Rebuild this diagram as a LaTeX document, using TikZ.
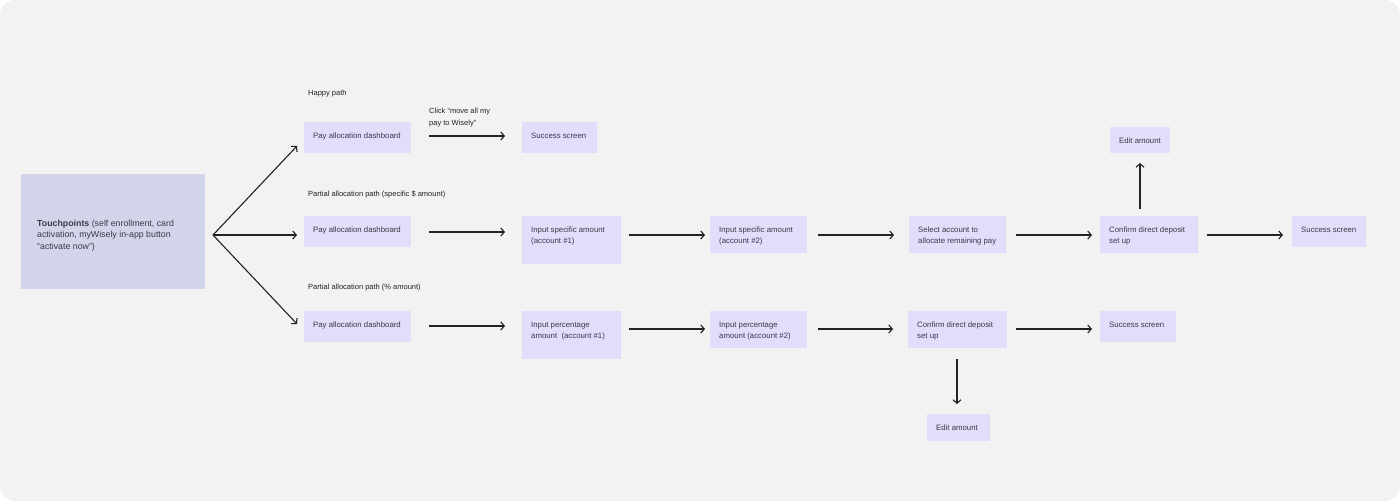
\documentclass[tikz,border=0pt]{standalone}
\usepackage{fontspec}
\setmainfont{Liberation Sans}
\usetikzlibrary{arrows.meta}
\definecolor{bg}{HTML}{F2F2F2}
\definecolor{tpfill}{HTML}{D2D5EA}
\definecolor{boxfill}{HTML}{E3DCFA}
\definecolor{ink}{HTML}{222222}
\definecolor{txt}{HTML}{3A3948}
\newcommand\bx[7][boxfill]{%
  \node[box, fill=#1, minimum width={#5-#3}, minimum height={#6-#4}] (#2) at (#3,#4) {};
  \node[boxtxt] (#2t) at (#2.north west) {#7};}
\begin{document}
\begin{tikzpicture}[x=1pt,y=-1pt,
  box/.style={draw=none, anchor=north west, inner sep=0pt, outer sep=0pt},
  boxtxt/.style={anchor=north west, inner xsep=9pt, inner ysep=10.5pt, align=left, font=\fontsize{7.8}{11}\selectfont, text=txt},
  lbl/.style={anchor=west, inner sep=0pt, align=left, font=\fontsize{7.5}{12}\selectfont, text=ink},
  arr/.style={draw=ink, line width=1.1pt, -{Straight Barb[length=3.5pt,width=8pt]}},
]
\useasboundingbox (0,0) rectangle (1400,501);
\fill[white] (0,0) rectangle (1400,501);
\fill[bg, rounded corners=15pt] (0,0) rectangle (1400,501);

% touchpoints
\node[box, fill=tpfill, minimum width=184, minimum height=115] (tp) at (21,174) {};
\node[anchor=west, inner sep=0pt, align=left, text=txt, font=\fontsize{8.8}{11.5}\selectfont] (tpt) at ([shift={(16,4)}]tp.west)
  {\textbf{Touchpoints} (self enrollment, card\\activation, myWisely in-app button\\“activate now”)};

% row 1
\bx{pad1}{304}{122}{411}{153}{Pay allocation dashboard}
\bx{suc1}{522}{122}{597}{153}{Success screen}
% row 2
\bx{pad2}{304}{216}{411}{247}{Pay allocation dashboard}
\bx{isa1}{522}{216}{621}{264}{Input specific amount\\(account \#1)}
\bx{isa2}{710}{216}{807}{253}{Input specific amount\\(account \#2)}
\bx{sel}{909}{216}{1006}{253}{Select account to\\allocate remaining pay}
\bx{conf2}{1100}{216}{1198}{253}{Confirm direct deposit\\set up}
\bx{suc2}{1292}{216}{1366}{247}{Success screen}
\bx{edit1}{1110}{127}{1170}{153}{Edit amount}
% row 3
\bx{pad3}{304}{311}{411}{342}{Pay allocation dashboard}
\bx{ipa1}{522}{311}{621}{359}{Input percentage\\amount\ \ (account \#1)}
\bx{ipa2}{710}{311}{807}{348}{Input percentage\\amount (account \#2)}
\bx{conf3}{908}{311}{1007}{348}{Confirm direct deposit\\set up}
\bx{suc3}{1100}{311}{1176}{342}{Success screen}
\bx{edit2}{927}{414}{990}{441}{Edit amount}

% labels
\node[lbl] (happy) at (308,93.5) {Happy path};
\node[lbl] (part1) at (308,194) {Partial allocation path (specific \$ amount)};
\node[lbl] (part2) at (308,288) {Partial allocation path (\% amount)};
\node[lbl] (click) at (429,118) {Click “move all my\\pay to Wisely”};

% touchpoint fork
\coordinate (fork) at ([shift={(8,3.5)}]tp.east);
\draw[arr] (fork) -- ([shift={(-7,8.5)}]pad1.west);
\draw[arr] (fork) -- ([shift={(-7,3.5)}]pad2.west);
\draw[arr] (fork) -- ([shift={(-7,-2.5)}]pad3.west);

% row 1
\draw[arr] ([shift={(18,14)}]pad1.north east) -- ([shift={(-17,14)}]suc1.north west);
% row 2
\draw[arr] ([shift={(18,16)}]pad2.north east) -- ([shift={(-17,16)}]isa1.north west);
\draw[arr] ([shift={(8,19)}]isa1.north east) -- ([shift={(-5,19)}]isa2.north west);
\draw[arr] ([shift={(11,19)}]isa2.north east) -- ([shift={(-15,19)}]sel.north west);
\draw[arr] ([shift={(10,19)}]sel.north east) -- ([shift={(-8,19)}]conf2.north west);
\draw[arr] ([shift={(9,19)}]conf2.north east) -- ([shift={(-9,19)}]suc2.north west);
\draw[arr] ([shift={(-9,-7)}]conf2.north) -- ([shift={(0,10)}]edit1.south);
% row 3
\draw[arr] ([shift={(18,15)}]pad3.north east) -- ([shift={(-17,15)}]ipa1.north west);
\draw[arr] ([shift={(8,18)}]ipa1.north east) -- ([shift={(-5,18)}]ipa2.north west);
\draw[arr] ([shift={(11,18)}]ipa2.north east) -- ([shift={(-15,18)}]conf3.north west);
\draw[arr] ([shift={(9,18)}]conf3.north east) -- ([shift={(-8,18)}]suc3.north west);
\draw[arr] ([shift={(-0.5,11)}]conf3.south) -- ([shift={(-1.5,-10)}]edit2.north);
\end{tikzpicture}
\end{document}
